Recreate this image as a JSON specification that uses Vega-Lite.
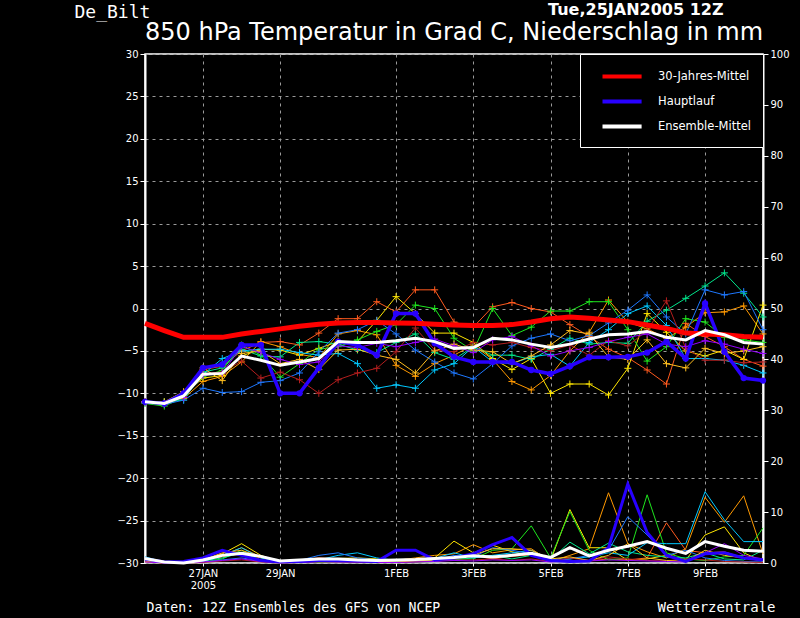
{
  "$schema": "https://vega.github.io/schema/vega-lite/v6.json",
  "width": 618,
  "height": 509,
  "autosize": {"type": "none"},
  "padding": {"left": 145, "top": 54, "right": 37, "bottom": 55},
  "background": "black",
  "title": {"text": "850 hPa Temperatur in Grad C, Niederschlag in mm", "dy": 2},
  "datasets": {
    "mem": [
      {"s":0,"m":"p1","t":-11.0,"p":0.5},{"s":1,"m":"p1","t":-11.3,"p":0},{"s":2,"m":"p1","t":-10.0,"p":0.2},{"s":3,"m":"p1","t":-7.2,"p":0.5},{"s":4,"m":"p1","t":-6.8,"p":1.2},{"s":5,"m":"p1","t":-5.0,"p":1.8},{"s":6,"m":"p1","t":-4.0,"p":1.0},{"s":7,"m":"p1","t":-3.9,"p":0.3},{"s":8,"m":"p1","t":-4.3,"p":0.6},{"s":9,"m":"p1","t":-2.9,"p":1.0},{"s":10,"m":"p1","t":-1.2,"p":0.8},{"s":11,"m":"p1","t":-1.2,"p":0.5},{"s":12,"m":"p1","t":0.8,"p":0.3},{"s":13,"m":"p1","t":-0.4,"p":0.2},{"s":14,"m":"p1","t":2.2,"p":0.5},{"s":15,"m":"p1","t":2.2,"p":0.8},{"s":16,"m":"p1","t":-1.6,"p":1.2},{"s":17,"m":"p1","t":-2.2,"p":1.5},{"s":18,"m":"p1","t":0.2,"p":0.8},{"s":19,"m":"p1","t":0.7,"p":1.3},{"s":20,"m":"p1","t":0.0,"p":1.6},{"s":21,"m":"p1","t":-0.4,"p":0.8},{"s":22,"m":"p1","t":-1.9,"p":0.5},{"s":23,"m":"p1","t":-3.3,"p":0.4},{"s":24,"m":"p1","t":-4.8,"p":0.8},{"s":25,"m":"p1","t":-5.8,"p":0.6},{"s":26,"m":"p1","t":-7.25,"p":1.0},{"s":27,"m":"p1","t":-8.9,"p":7.9},{"s":28,"m":"p1","t":-1.75,"p":2.5},{"s":29,"m":"p1","t":-3.3,"p":2.0},{"s":30,"m":"p1","t":-4.5,"p":2.2},{"s":31,"m":"p1","t":-6.0,"p":1.0},{"s":32,"m":"p1","t":-6.8,"p":0.5},
      {"s":0,"m":"p2","t":-11.1,"p":0.3},{"s":1,"m":"p2","t":-11.0,"p":0},{"s":2,"m":"p2","t":-10.6,"p":0},{"s":3,"m":"p2","t":-8.6,"p":0.3},{"s":4,"m":"p2","t":-8.0,"p":1.5},{"s":5,"m":"p2","t":-6.3,"p":3.0},{"s":6,"m":"p2","t":-3.9,"p":1.2},{"s":7,"m":"p2","t":-4.5,"p":0.3},{"s":8,"m":"p2","t":-5.4,"p":0.2},{"s":9,"m":"p2","t":-5.8,"p":0.4},{"s":10,"m":"p2","t":-3.0,"p":0.4},{"s":11,"m":"p2","t":-2.6,"p":0.3},{"s":12,"m":"p2","t":-3.1,"p":0.2},{"s":13,"m":"p2","t":-6.7,"p":0.5},{"s":14,"m":"p2","t":-8.0,"p":1.0},{"s":15,"m":"p2","t":-6.5,"p":1.5},{"s":16,"m":"p2","t":-5.5,"p":1.8},{"s":17,"m":"p2","t":-4.3,"p":3.6},{"s":18,"m":"p2","t":-6.0,"p":2.0},{"s":19,"m":"p2","t":-8.6,"p":2.6},{"s":20,"m":"p2","t":-9.6,"p":2.8},{"s":21,"m":"p2","t":-7.9,"p":0.3},{"s":22,"m":"p2","t":-5.0,"p":1.5},{"s":23,"m":"p2","t":-2.8,"p":2.8},{"s":24,"m":"p2","t":1.0,"p":13.8},{"s":25,"m":"p2","t":-1.6,"p":3.8},{"s":26,"m":"p2","t":-2.4,"p":2.2},{"s":27,"m":"p2","t":-3.5,"p":1.0},{"s":28,"m":"p2","t":-2.2,"p":2.8},{"s":29,"m":"p2","t":-0.5,"p":12.9},{"s":30,"m":"p2","t":-0.4,"p":8.0},{"s":31,"m":"p2","t":0.3,"p":13.2},{"s":32,"m":"p2","t":-3.0,"p":1.8},
      {"s":0,"m":"p3","t":-11.0,"p":0.2},{"s":1,"m":"p3","t":-11.2,"p":0},{"s":2,"m":"p3","t":-10.2,"p":0},{"s":3,"m":"p3","t":-8.2,"p":0.5},{"s":4,"m":"p3","t":-7.9,"p":1.8},{"s":5,"m":"p3","t":-5.6,"p":3.8},{"s":6,"m":"p3","t":-4.8,"p":1.5},{"s":7,"m":"p3","t":-4.9,"p":0.2},{"s":8,"m":"p3","t":-5.5,"p":0.1},{"s":9,"m":"p3","t":-4.7,"p":0.8},{"s":10,"m":"p3","t":-3.9,"p":0.9},{"s":11,"m":"p3","t":-3.9,"p":1.0},{"s":12,"m":"p3","t":-1.4,"p":0.8},{"s":13,"m":"p3","t":1.4,"p":0.4},{"s":14,"m":"p3","t":-0.6,"p":0.3},{"s":15,"m":"p3","t":-2.9,"p":1.0},{"s":16,"m":"p3","t":-2.9,"p":4.3},{"s":17,"m":"p3","t":-4.0,"p":2.0},{"s":18,"m":"p3","t":-5.9,"p":3.5},{"s":19,"m":"p3","t":-7.2,"p":2.2},{"s":20,"m":"p3","t":-5.9,"p":1.5},{"s":21,"m":"p3","t":-10.0,"p":0.5},{"s":22,"m":"p3","t":-8.9,"p":10.5},{"s":23,"m":"p3","t":-8.9,"p":3.0},{"s":24,"m":"p3","t":-10.2,"p":3.0},{"s":25,"m":"p3","t":-7.05,"p":0.5},{"s":26,"m":"p3","t":-0.6,"p":0.8},{"s":27,"m":"p3","t":-2.8,"p":1.5},{"s":28,"m":"p3","t":-5.0,"p":0.6},{"s":29,"m":"p3","t":-5.6,"p":5.5},{"s":30,"m":"p3","t":-4.9,"p":7.1},{"s":31,"m":"p3","t":-6.0,"p":2.0},{"s":32,"m":"p3","t":0.4,"p":0.3},
      {"s":0,"m":"p4","t":-11.2,"p":0.6},{"s":1,"m":"p4","t":-11.5,"p":0.1},{"s":2,"m":"p4","t":-10.5,"p":0},{"s":3,"m":"p4","t":-8.0,"p":0.2},{"s":4,"m":"p4","t":-7.3,"p":0.8},{"s":5,"m":"p4","t":-4.3,"p":2.5},{"s":6,"m":"p4","t":-5.5,"p":0.5},{"s":7,"m":"p4","t":-8.1,"p":0.1},{"s":8,"m":"p4","t":-6.5,"p":0.2},{"s":9,"m":"p4","t":-4.8,"p":0.2},{"s":10,"m":"p4","t":-4.5,"p":0.3},{"s":11,"m":"p4","t":-3.7,"p":0.2},{"s":12,"m":"p4","t":-2.7,"p":0.2},{"s":13,"m":"p4","t":-1.9,"p":0.1},{"s":14,"m":"p4","t":0.4,"p":0.2},{"s":15,"m":"p4","t":0.0,"p":0.3},{"s":16,"m":"p4","t":-3.5,"p":0.8},{"s":17,"m":"p4","t":-5.0,"p":0.8},{"s":18,"m":"p4","t":0.0,"p":2.5},{"s":19,"m":"p4","t":-3.2,"p":2.8},{"s":20,"m":"p4","t":-2.2,"p":7.3},{"s":21,"m":"p4","t":-0.3,"p":1.0},{"s":22,"m":"p4","t":-0.3,"p":10.1},{"s":23,"m":"p4","t":0.8,"p":2.5},{"s":24,"m":"p4","t":0.8,"p":0.6},{"s":25,"m":"p4","t":-2.5,"p":1.0},{"s":26,"m":"p4","t":-6.2,"p":13.4},{"s":27,"m":"p4","t":-4.5,"p":2.0},{"s":28,"m":"p4","t":-1.2,"p":0.8},{"s":29,"m":"p4","t":-1.6,"p":0.5},{"s":30,"m":"p4","t":-3.4,"p":1.2},{"s":31,"m":"p4","t":-3.7,"p":1.5},{"s":32,"m":"p4","t":-4.0,"p":6.9},
      {"s":0,"m":"p5","t":-11.0,"p":0.8},{"s":1,"m":"p5","t":-11.0,"p":0},{"s":2,"m":"p5","t":-10.8,"p":0.1},{"s":3,"m":"p5","t":-7.5,"p":0.4},{"s":4,"m":"p5","t":-7.0,"p":1.0},{"s":5,"m":"p5","t":-4.8,"p":2.0},{"s":6,"m":"p5","t":-5.6,"p":0.6},{"s":7,"m":"p5","t":-5.7,"p":0.3},{"s":8,"m":"p5","t":-4.0,"p":0.3},{"s":9,"m":"p5","t":-3.9,"p":0.2},{"s":10,"m":"p5","t":-4.2,"p":0.2},{"s":11,"m":"p5","t":-4.9,"p":0.1},{"s":12,"m":"p5","t":-5.2,"p":0.1},{"s":13,"m":"p5","t":-4.0,"p":0.3},{"s":14,"m":"p5","t":-3.0,"p":0.5},{"s":15,"m":"p5","t":-5.2,"p":0.6},{"s":16,"m":"p5","t":-6.0,"p":0.6},{"s":17,"m":"p5","t":-4.5,"p":1.0},{"s":18,"m":"p5","t":-5.5,"p":1.5},{"s":19,"m":"p5","t":-5.5,"p":0.8},{"s":20,"m":"p5","t":-6.0,"p":1.5},{"s":21,"m":"p5","t":-4.8,"p":0.6},{"s":22,"m":"p5","t":-3.5,"p":4.1},{"s":23,"m":"p5","t":-4.2,"p":1.8},{"s":24,"m":"p5","t":-4.0,"p":3.9},{"s":25,"m":"p5","t":-4.1,"p":2.2},{"s":26,"m":"p5","t":-1.5,"p":1.5},{"s":27,"m":"p5","t":-0.2,"p":1.2},{"s":28,"m":"p5","t":1.2,"p":1.0},{"s":29,"m":"p5","t":2.65,"p":2.0},{"s":30,"m":"p5","t":4.2,"p":0.8},{"s":31,"m":"p5","t":1.8,"p":0.6},{"s":32,"m":"p5","t":-1.0,"p":2.5},
      {"s":0,"m":"p6","t":-11.0,"p":1.2},{"s":1,"m":"p6","t":-11.1,"p":0.2},{"s":2,"m":"p6","t":-10.3,"p":0},{"s":3,"m":"p6","t":-7.8,"p":0.3},{"s":4,"m":"p6","t":-5.9,"p":1.5},{"s":5,"m":"p6","t":-5.0,"p":3.0},{"s":6,"m":"p6","t":-4.8,"p":1.0},{"s":7,"m":"p6","t":-4.8,"p":0.2},{"s":8,"m":"p6","t":-5.2,"p":0.3},{"s":9,"m":"p6","t":-5.5,"p":0.6},{"s":10,"m":"p6","t":-5.3,"p":1.5},{"s":11,"m":"p6","t":-6.5,"p":2.0},{"s":12,"m":"p6","t":-9.4,"p":1.0},{"s":13,"m":"p6","t":-9.0,"p":0.5},{"s":14,"m":"p6","t":-9.4,"p":0.4},{"s":15,"m":"p6","t":-7.25,"p":0.9},{"s":16,"m":"p6","t":-6.5,"p":2.0},{"s":17,"m":"p6","t":-4.5,"p":1.0},{"s":18,"m":"p6","t":-6.3,"p":1.5},{"s":19,"m":"p6","t":-6.5,"p":2.0},{"s":20,"m":"p6","t":-5.7,"p":2.5},{"s":21,"m":"p6","t":-5.4,"p":0.7},{"s":22,"m":"p6","t":-6.8,"p":0.8},{"s":23,"m":"p6","t":-4.0,"p":1.2},{"s":24,"m":"p6","t":-2.5,"p":2.0},{"s":25,"m":"p6","t":-0.6,"p":1.5},{"s":26,"m":"p6","t":0.3,"p":4.0},{"s":27,"m":"p6","t":-2.0,"p":3.8},{"s":28,"m":"p6","t":-5.9,"p":3.8},{"s":29,"m":"p6","t":-5.9,"p":14.0},{"s":30,"m":"p6","t":-6.1,"p":8.5},{"s":31,"m":"p6","t":-6.7,"p":4.2},{"s":32,"m":"p6","t":-7.6,"p":4.2},
      {"s":0,"m":"p7","t":-11.1,"p":0.5},{"s":1,"m":"p7","t":-11.3,"p":0},{"s":2,"m":"p7","t":-10.8,"p":0},{"s":3,"m":"p7","t":-9.4,"p":0.2},{"s":4,"m":"p7","t":-9.9,"p":0.6},{"s":5,"m":"p7","t":-9.8,"p":1.0},{"s":6,"m":"p7","t":-8.7,"p":0.4},{"s":7,"m":"p7","t":-8.5,"p":0.2},{"s":8,"m":"p7","t":-7.6,"p":0.5},{"s":9,"m":"p7","t":-5.1,"p":1.5},{"s":10,"m":"p7","t":-2.9,"p":2.0},{"s":11,"m":"p7","t":-2.5,"p":1.0},{"s":12,"m":"p7","t":-1.4,"p":0.6},{"s":13,"m":"p7","t":-3.0,"p":0.4},{"s":14,"m":"p7","t":-4.9,"p":0.5},{"s":15,"m":"p7","t":-6.3,"p":0.5},{"s":16,"m":"p7","t":-7.6,"p":1.5},{"s":17,"m":"p7","t":-8.3,"p":1.2},{"s":18,"m":"p7","t":-6.5,"p":3.0},{"s":19,"m":"p7","t":-4.4,"p":2.5},{"s":20,"m":"p7","t":-3.5,"p":1.8},{"s":21,"m":"p7","t":-3.0,"p":0.5},{"s":22,"m":"p7","t":-3.8,"p":0.8},{"s":23,"m":"p7","t":-3.2,"p":1.5},{"s":24,"m":"p7","t":-1.7,"p":2.5},{"s":25,"m":"p7","t":-0.2,"p":9.1},{"s":26,"m":"p7","t":1.6,"p":5.5},{"s":27,"m":"p7","t":-1.0,"p":1.5},{"s":28,"m":"p7","t":-3.0,"p":2.5},{"s":29,"m":"p7","t":2.2,"p":1.0},{"s":30,"m":"p7","t":1.6,"p":0.5},{"s":31,"m":"p7","t":2.0,"p":0.3},{"s":32,"m":"p7","t":-2.5,"p":0.2},
      {"s":0,"m":"p8","t":-11.0,"p":0.3},{"s":1,"m":"p8","t":-11.2,"p":0},{"s":2,"m":"p8","t":-10.4,"p":0},{"s":3,"m":"p8","t":-7.7,"p":0.1},{"s":4,"m":"p8","t":-7.5,"p":0.4},{"s":5,"m":"p8","t":-6.2,"p":0.6},{"s":6,"m":"p8","t":-8.2,"p":0.2},{"s":7,"m":"p8","t":-7.5,"p":0},{"s":8,"m":"p8","t":-8.4,"p":0.1},{"s":9,"m":"p8","t":-10.0,"p":0.2},{"s":10,"m":"p8","t":-8.4,"p":0.2},{"s":11,"m":"p8","t":-7.6,"p":0.1},{"s":12,"m":"p8","t":-7.05,"p":0.1},{"s":13,"m":"p8","t":-5.1,"p":0.1},{"s":14,"m":"p8","t":-2.3,"p":0.2},{"s":15,"m":"p8","t":-4.9,"p":0.4},{"s":16,"m":"p8","t":-5.1,"p":0.6},{"s":17,"m":"p8","t":-4.0,"p":0.6},{"s":18,"m":"p8","t":-4.3,"p":0.8},{"s":19,"m":"p8","t":-4.0,"p":0.5},{"s":20,"m":"p8","t":-4.6,"p":0.8},{"s":21,"m":"p8","t":-5.0,"p":0.3},{"s":22,"m":"p8","t":-4.3,"p":1.0},{"s":23,"m":"p8","t":-5.5,"p":0.5},{"s":24,"m":"p8","t":-3.8,"p":1.2},{"s":25,"m":"p8","t":-4.4,"p":0.8},{"s":26,"m":"p8","t":-2.6,"p":0.5},{"s":27,"m":"p8","t":0.9,"p":0.4},{"s":28,"m":"p8","t":-4.7,"p":0.8},{"s":29,"m":"p8","t":-6.1,"p":0.6},{"s":30,"m":"p8","t":-6.1,"p":0.3},{"s":31,"m":"p8","t":-6.4,"p":0.2},{"s":32,"m":"p8","t":-6.3,"p":0.1},
      {"s":0,"m":"p9","t":-11.0,"p":0.4},{"s":1,"m":"p9","t":-11.0,"p":0},{"s":2,"m":"p9","t":-9.8,"p":0},{"s":3,"m":"p9","t":-7.0,"p":0.6},{"s":4,"m":"p9","t":-8.5,"p":2.0},{"s":5,"m":"p9","t":-5.3,"p":2.5},{"s":6,"m":"p9","t":-5.0,"p":1.2},{"s":7,"m":"p9","t":-6.5,"p":0.4},{"s":8,"m":"p9","t":-6.0,"p":0.3},{"s":9,"m":"p9","t":-7.2,"p":0.7},{"s":10,"m":"p9","t":-4.9,"p":0.6},{"s":11,"m":"p9","t":-4.8,"p":0.5},{"s":12,"m":"p9","t":-5.5,"p":0.4},{"s":13,"m":"p9","t":-6.0,"p":0.2},{"s":14,"m":"p9","t":-7.6,"p":0.4},{"s":15,"m":"p9","t":-5.0,"p":0.6},{"s":16,"m":"p9","t":-4.2,"p":1.0},{"s":17,"m":"p9","t":-4.9,"p":1.6},{"s":18,"m":"p9","t":-5.1,"p":2.8},{"s":19,"m":"p9","t":-6.5,"p":2.8},{"s":20,"m":"p9","t":-5.6,"p":2.5},{"s":21,"m":"p9","t":-4.3,"p":0.8},{"s":22,"m":"p9","t":-2.6,"p":1.2},{"s":23,"m":"p9","t":-3.0,"p":0.5},{"s":24,"m":"p9","t":-5.7,"p":1.5},{"s":25,"m":"p9","t":-6.0,"p":3.8},{"s":26,"m":"p9","t":-3.7,"p":1.0},{"s":27,"m":"p9","t":-6.5,"p":0.5},{"s":28,"m":"p9","t":-7.0,"p":0.3},{"s":29,"m":"p9","t":-4.7,"p":2.5},{"s":30,"m":"p9","t":-5.3,"p":1.5},{"s":31,"m":"p9","t":-5.0,"p":1.0},{"s":32,"m":"p9","t":-4.5,"p":0.4},
      {"s":0,"m":"p10","t":-11.0,"p":0.2},{"s":1,"m":"p10","t":-11.2,"p":0},{"s":2,"m":"p10","t":-10.5,"p":0},{"s":3,"m":"p10","t":-7.9,"p":0.2},{"s":4,"m":"p10","t":-7.6,"p":0.5},{"s":5,"m":"p10","t":-4.5,"p":0.8},{"s":6,"m":"p10","t":-5.2,"p":0.3},{"s":7,"m":"p10","t":-6.0,"p":0.1},{"s":8,"m":"p10","t":-6.6,"p":0.1},{"s":9,"m":"p10","t":-6.3,"p":0.3},{"s":10,"m":"p10","t":-4.4,"p":0.2},{"s":11,"m":"p10","t":-4.6,"p":0.2},{"s":12,"m":"p10","t":-4.1,"p":0.1},{"s":13,"m":"p10","t":-4.5,"p":0.1},{"s":14,"m":"p10","t":-4.0,"p":0.2},{"s":15,"m":"p10","t":-3.6,"p":0.3},{"s":16,"m":"p10","t":-4.4,"p":0.5},{"s":17,"m":"p10","t":-5.2,"p":0.4},{"s":18,"m":"p10","t":-3.7,"p":0.6},{"s":19,"m":"p10","t":-3.3,"p":0.5},{"s":20,"m":"p10","t":-4.4,"p":0.6},{"s":21,"m":"p10","t":-5.6,"p":0.2},{"s":22,"m":"p10","t":-5.0,"p":0.5},{"s":23,"m":"p10","t":-4.6,"p":0.4},{"s":24,"m":"p10","t":-3.9,"p":0.6},{"s":25,"m":"p10","t":-3.4,"p":0.5},{"s":26,"m":"p10","t":-3.0,"p":0.4},{"s":27,"m":"p10","t":-4.2,"p":0.3},{"s":28,"m":"p10","t":-4.5,"p":0.2},{"s":29,"m":"p10","t":-3.8,"p":2.0},{"s":30,"m":"p10","t":-4.2,"p":3.8},{"s":31,"m":"p10","t":-4.8,"p":1.5},{"s":32,"m":"p10","t":-5.3,"p":0.8}
    ],
    "main": [
      {"s":0,"k":"30-Jahres-Mittel","t":-1.75},{"s":1,"k":"30-Jahres-Mittel","t":-2.6},{"s":2,"k":"30-Jahres-Mittel","t":-3.4},{"s":3,"k":"30-Jahres-Mittel","t":-3.4},{"s":4,"k":"30-Jahres-Mittel","t":-3.4},{"s":5,"k":"30-Jahres-Mittel","t":-3.0},{"s":6,"k":"30-Jahres-Mittel","t":-2.7},{"s":7,"k":"30-Jahres-Mittel","t":-2.4},{"s":8,"k":"30-Jahres-Mittel","t":-2.1},{"s":9,"k":"30-Jahres-Mittel","t":-1.85},{"s":10,"k":"30-Jahres-Mittel","t":-1.7},{"s":11,"k":"30-Jahres-Mittel","t":-1.65},{"s":12,"k":"30-Jahres-Mittel","t":-1.65},{"s":13,"k":"30-Jahres-Mittel","t":-1.7},{"s":14,"k":"30-Jahres-Mittel","t":-1.75},{"s":15,"k":"30-Jahres-Mittel","t":-1.85},{"s":16,"k":"30-Jahres-Mittel","t":-1.95},{"s":17,"k":"30-Jahres-Mittel","t":-2.0},{"s":18,"k":"30-Jahres-Mittel","t":-2.0},{"s":19,"k":"30-Jahres-Mittel","t":-1.9},{"s":20,"k":"30-Jahres-Mittel","t":-1.6},{"s":21,"k":"30-Jahres-Mittel","t":-1.2},{"s":22,"k":"30-Jahres-Mittel","t":-1.0},{"s":23,"k":"30-Jahres-Mittel","t":-1.15},{"s":24,"k":"30-Jahres-Mittel","t":-1.35},{"s":25,"k":"30-Jahres-Mittel","t":-1.55},{"s":26,"k":"30-Jahres-Mittel","t":-1.95},{"s":27,"k":"30-Jahres-Mittel","t":-2.35},{"s":28,"k":"30-Jahres-Mittel","t":-2.9},{"s":29,"k":"30-Jahres-Mittel","t":-3.0},{"s":30,"k":"30-Jahres-Mittel","t":-3.1},{"s":31,"k":"30-Jahres-Mittel","t":-3.3},{"s":32,"k":"30-Jahres-Mittel","t":-3.4},
      {"s":0,"k":"Hauptlauf","t":-11.0,"p":0.8},{"s":1,"k":"Hauptlauf","t":-11.2,"p":0.2},{"s":2,"k":"Hauptlauf","t":-10.0,"p":0.3},{"s":3,"k":"Hauptlauf","t":-7.0,"p":1.0},{"s":4,"k":"Hauptlauf","t":-6.6,"p":2.5},{"s":5,"k":"Hauptlauf","t":-4.3,"p":1.5},{"s":6,"k":"Hauptlauf","t":-4.3,"p":0.5},{"s":7,"k":"Hauptlauf","t":-10.0,"p":0.2},{"s":8,"k":"Hauptlauf","t":-10.0,"p":0.3},{"s":9,"k":"Hauptlauf","t":-7.0,"p":0.5},{"s":10,"k":"Hauptlauf","t":-3.9,"p":0.5},{"s":11,"k":"Hauptlauf","t":-4.3,"p":0.4},{"s":12,"k":"Hauptlauf","t":-5.5,"p":0.3},{"s":13,"k":"Hauptlauf","t":-0.6,"p":2.5},{"s":14,"k":"Hauptlauf","t":-0.6,"p":2.5},{"s":15,"k":"Hauptlauf","t":-4.1,"p":0.6},{"s":16,"k":"Hauptlauf","t":-5.7,"p":1.0},{"s":17,"k":"Hauptlauf","t":-6.3,"p":1.8},{"s":18,"k":"Hauptlauf","t":-6.3,"p":3.6},{"s":19,"k":"Hauptlauf","t":-6.3,"p":5.0},{"s":20,"k":"Hauptlauf","t":-7.25,"p":1.5},{"s":21,"k":"Hauptlauf","t":-7.7,"p":0.5},{"s":22,"k":"Hauptlauf","t":-6.8,"p":0.3},{"s":23,"k":"Hauptlauf","t":-5.75,"p":0.4},{"s":24,"k":"Hauptlauf","t":-5.75,"p":3.0},{"s":25,"k":"Hauptlauf","t":-5.7,"p":15.5},{"s":26,"k":"Hauptlauf","t":-5.2,"p":6.0},{"s":27,"k":"Hauptlauf","t":-3.9,"p":1.5},{"s":28,"k":"Hauptlauf","t":-5.9,"p":0.3},{"s":29,"k":"Hauptlauf","t":0.6,"p":1.8},{"s":30,"k":"Hauptlauf","t":-5.1,"p":2.0},{"s":31,"k":"Hauptlauf","t":-8.2,"p":1.0},{"s":32,"k":"Hauptlauf","t":-8.5,"p":0.6},
      {"s":0,"k":"Ensemble-Mittel","t":-11.0,"p":0.9},{"s":1,"k":"Ensemble-Mittel","t":-11.2,"p":0.2},{"s":2,"k":"Ensemble-Mittel","t":-10.3,"p":0.0},{"s":3,"k":"Ensemble-Mittel","t":-7.75,"p":0.6},{"s":4,"k":"Ensemble-Mittel","t":-7.65,"p":1.5},{"s":5,"k":"Ensemble-Mittel","t":-5.6,"p":1.9},{"s":6,"k":"Ensemble-Mittel","t":-6.1,"p":1.3},{"s":7,"k":"Ensemble-Mittel","t":-6.7,"p":0.4},{"s":8,"k":"Ensemble-Mittel","t":-6.3,"p":0.6},{"s":9,"k":"Ensemble-Mittel","t":-5.9,"p":0.8},{"s":10,"k":"Ensemble-Mittel","t":-3.9,"p":0.8},{"s":11,"k":"Ensemble-Mittel","t":-4.0,"p":0.6},{"s":12,"k":"Ensemble-Mittel","t":-4.0,"p":0.5},{"s":13,"k":"Ensemble-Mittel","t":-3.8,"p":0.6},{"s":14,"k":"Ensemble-Mittel","t":-3.5,"p":0.7},{"s":15,"k":"Ensemble-Mittel","t":-3.9,"p":0.9},{"s":16,"k":"Ensemble-Mittel","t":-4.7,"p":1.1},{"s":17,"k":"Ensemble-Mittel","t":-4.6,"p":1.4},{"s":18,"k":"Ensemble-Mittel","t":-3.5,"p":1.2},{"s":19,"k":"Ensemble-Mittel","t":-3.7,"p":1.5},{"s":20,"k":"Ensemble-Mittel","t":-4.2,"p":1.9},{"s":21,"k":"Ensemble-Mittel","t":-4.6,"p":1.1},{"s":22,"k":"Ensemble-Mittel","t":-4.2,"p":3.0},{"s":23,"k":"Ensemble-Mittel","t":-3.6,"p":1.4},{"s":24,"k":"Ensemble-Mittel","t":-3.1,"p":2.5},{"s":25,"k":"Ensemble-Mittel","t":-3.0,"p":3.3},{"s":26,"k":"Ensemble-Mittel","t":-2.7,"p":4.2},{"s":27,"k":"Ensemble-Mittel","t":-3.4,"p":2.9},{"s":28,"k":"Ensemble-Mittel","t":-3.7,"p":1.9},{"s":29,"k":"Ensemble-Mittel","t":-2.6,"p":4.2},{"s":30,"k":"Ensemble-Mittel","t":-3.1,"p":3.3},{"s":31,"k":"Ensemble-Mittel","t":-4.0,"p":2.5},{"s":32,"k":"Ensemble-Mittel","t":-4.2,"p":2.3}
    ]
  },
  "layer": [
    {
      "encoding": {
        "x": {
          "field": "s", "type": "quantitative",
          "scale": {"domain": [0, 32], "nice": false, "zero": false},
          "axis": {
            "orient": "bottom", "values": [3, 7, 13, 17, 21, 25, 29],
            "labelExpr": "datum.value == 3 ? ['27JAN', '2005'] : datum.value == 7 ? '29JAN' : datum.value == 13 ? '1FEB' : datum.value == 17 ? '3FEB' : datum.value == 21 ? '5FEB' : datum.value == 25 ? '7FEB' : '9FEB'",
            "grid": true, "ticks": true, "tickSize": 3, "domain": false, "labelPadding": 2, "labelLineHeight": 12,
            "title": "Daten: 12Z Ensembles des GFS von NCEP",
            "titleX": 1, "titleY": 44, "titleAlign": "left", "titleBaseline": "middle",
            "titleFontSize": 13.2, "titleFont": "DejaVu Sans Mono"
          }
        },
        "y": {
          "field": "t", "type": "quantitative",
          "scale": {"domain": [-30, 30], "nice": false, "zero": false},
          "axis": {
            "orient": "left", "values": [-30, -25, -20, -15, -10, -5, 0, 5, 10, 15, 20, 25, 30],
            "grid": true, "tickSize": 5, "labelPadding": 2,
            "title": "De_Bilt", "titleAngle": 0, "titleX": -71, "titleY": -42,
            "titleAlign": "left", "titleBaseline": "middle", "titleFontSize": 18,
            "titleFont": "DejaVu Sans Mono"
          }
        }
      },
      "layer": [
        {
          "data": {"name": "mem"},
          "mark": {"type": "line", "strokeWidth": 1},
          "encoding": {
            "stroke": {
              "field": "m", "type": "nominal", "legend": null,
              "scale": {
                "domain": ["p1", "p2", "p3", "p4", "p5", "p6", "p7", "p8", "p9", "p10"],
                "range": ["#ff5a1e", "#ff9900", "#ffe600", "#1ee61e", "#00e68c", "#00c8ff", "#1e78ff", "#b41e1e", "#ffbe1e", "#9600ff"]
              }
            }
          }
        },
        {
          "data": {"name": "mem"},
          "mark": {"type": "point", "shape": "M-1,0L1,0M0,-1L0,1", "filled": false, "size": 49, "strokeWidth": 1, "opacity": 1},
          "encoding": {"stroke": {"field": "m", "type": "nominal", "legend": null}}
        },
        {
          "data": {"name": "main"},
          "transform": [{"filter": "datum.k == 'Hauptlauf'"}],
          "mark": {"type": "line", "strokeWidth": 3.5},
          "encoding": {"color": {"field": "k", "type": "nominal", "title": null, "scale": {"domain": ["30-Jahres-Mittel", "Hauptlauf", "Ensemble-Mittel"], "range": ["#ff0000", "#2800ff", "#ffffff"]}}}
        },
        {
          "data": {"name": "main"},
          "transform": [{"filter": "datum.k == 'Hauptlauf'"}],
          "mark": {"type": "point", "shape": "circle", "filled": true, "size": 40, "color": "#2800ff", "opacity": 1}
        },
        {
          "data": {"name": "main"},
          "transform": [{"filter": "datum.k == '30-Jahres-Mittel'"}],
          "mark": {"type": "line", "strokeWidth": 5},
          "encoding": {"color": {"field": "k", "type": "nominal", "title": null, "scale": {"domain": ["30-Jahres-Mittel", "Hauptlauf", "Ensemble-Mittel"], "range": ["#ff0000", "#2800ff", "#ffffff"]}}}
        },
        {
          "data": {"name": "main"},
          "transform": [{"filter": "datum.k == 'Ensemble-Mittel'"}],
          "mark": {"type": "line", "strokeWidth": 3},
          "encoding": {"color": {"field": "k", "type": "nominal", "title": null, "scale": {"domain": ["30-Jahres-Mittel", "Hauptlauf", "Ensemble-Mittel"], "range": ["#ff0000", "#2800ff", "#ffffff"]}}}
        }
      ]
    },
    {
      "encoding": {
        "x": {
          "field": "s", "type": "quantitative",
          "scale": {"domain": [0, 32], "nice": false, "zero": false},
          "axis": {
            "orient": "top", "labels": false, "ticks": false, "domain": false, "grid": false,
            "title": "Wetterzentrale", "titleX": 630, "titleY": 553,
            "titleAlign": "right", "titleBaseline": "middle", "titleFontSize": 14,
            "titleFont": "DejaVu Sans Mono"
          }
        },
        "y": {
          "field": "p", "type": "quantitative",
          "scale": {"domain": [0, 100], "nice": false, "zero": true},
          "axis": {
            "orient": "right", "values": [0, 10, 20, 30, 40, 50, 60, 70, 80, 90, 100],
            "grid": false, "tickSize": 5, "labelPadding": 2,
            "title": "Tue,25JAN2005 12Z", "titleAngle": 0, "titleX": -40, "titleY": -40,
            "titleAlign": "right", "titleBaseline": "alphabetic", "titleFontSize": 16,
            "titleFontWeight": "bold", "titleFont": "DejaVu Sans"
          }
        }
      },
      "layer": [
        {
          "data": {"name": "mem"},
          "mark": {"type": "line", "strokeWidth": 1},
          "encoding": {"stroke": {"field": "m", "type": "nominal", "legend": null}}
        },
        {
          "data": {"name": "main"},
          "transform": [{"filter": "datum.k == 'Hauptlauf'"}],
          "mark": {"type": "line", "strokeWidth": 3},
          "encoding": {"color": {"field": "k", "type": "nominal", "title": null, "scale": {"domain": ["30-Jahres-Mittel", "Hauptlauf", "Ensemble-Mittel"], "range": ["#ff0000", "#2800ff", "#ffffff"]}}}
        },
        {
          "data": {"name": "main"},
          "transform": [{"filter": "datum.k == 'Ensemble-Mittel'"}],
          "mark": {"type": "line", "strokeWidth": 3},
          "encoding": {"color": {"field": "k", "type": "nominal", "title": null, "scale": {"domain": ["30-Jahres-Mittel", "Hauptlauf", "Ensemble-Mittel"], "range": ["#ff0000", "#2800ff", "#ffffff"]}}}
        }
      ]
    }
  ],
  "resolve": {"scale": {"y": "independent"}, "axis": {"x": "independent", "y": "independent"}},
  "config": {
    "view": {"stroke": "#ffffff", "strokeWidth": 1.5, "fill": "#000000"},
    "font": "DejaVu Sans",
    "title": {"color": "#ffffff", "font": "DejaVu Sans", "fontSize": 24, "fontWeight": "normal", "anchor": "middle", "offset": -42, "baseline": "alphabetic"},
    "axis": {
      "labelColor": "#ffffff", "labelFont": "DejaVu Sans", "labelFontSize": 10,
      "titleColor": "#ffffff", "titleFont": "DejaVu Sans", "titleFontWeight": "normal",
      "domainColor": "#ffffff", "domainWidth": 2, "tickColor": "#ffffff", "tickWidth": 1,
      "gridColor": "#9a9a9a", "gridDash": [3, 4], "gridWidth": 1
    },
    "legend": {
      "orient": "top-right", "offset": 0, "fillColor": "#000000", "strokeColor": "#ffffff",
      "padding": 12, "symbolType": "M0,0L4.6,0", "symbolSize": 289, "symbolStrokeWidth": 4,
      "labelOffset": 45, "rowPadding": 6, "labelFontSize": 11.5, "labelColor": "#ffffff",
      "labelFont": "DejaVu Sans"
    }
  }
}
